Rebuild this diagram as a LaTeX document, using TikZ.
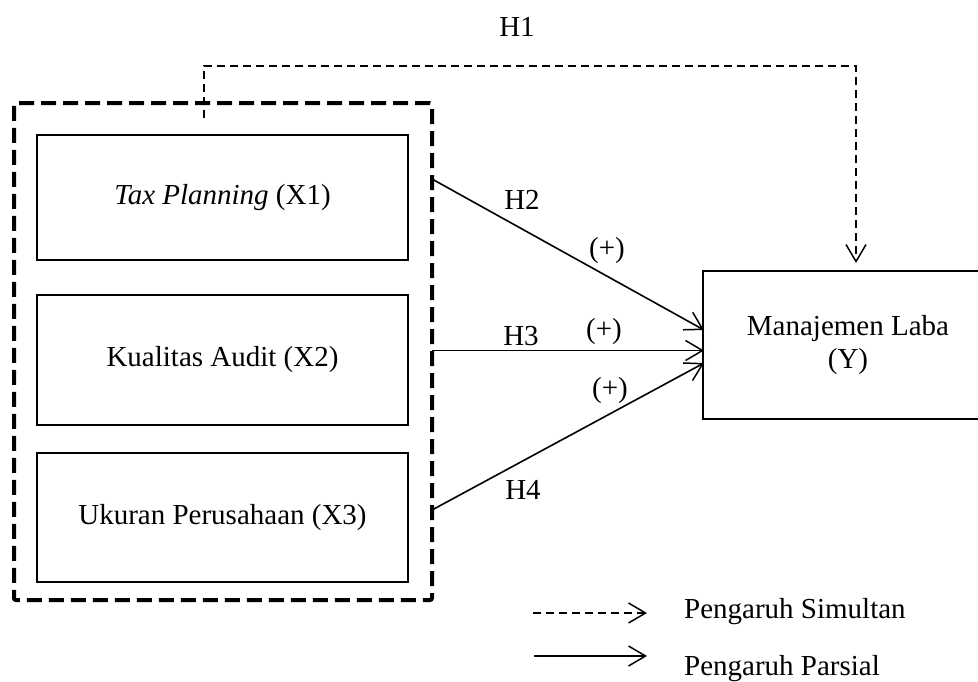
\documentclass[tikz,border=0pt]{standalone}
\usepackage{fontspec}
\setmainfont{Liberation Serif}
\usetikzlibrary{arrows.meta}
\begin{document}
\begin{tikzpicture}[x=1pt,y=-1pt,
  lbl/.style={font=\fontsize{29}{33}\selectfont, inner sep=0pt},
  varbox/.style={draw, line width=1.3pt, minimum width=371pt, font=\fontsize{29}{33}\selectfont, align=center},
  groupbox/.style={draw, line width=4pt, dash pattern=on 15pt off 7pt, rounded corners=2pt, minimum width=418pt, minimum height=497pt},
  tip/.style={-{Straight Barb[length=17pt,width=20pt,line width=1.5pt]}},
  partial/.style={tip, line width=1.6pt},
  simul/.style={tip, line width=1.4pt, dash pattern=on 8pt off 5pt},
]
\useasboundingbox (0,0) rectangle (978,681);
\clip (0,0) rectangle (978,681);

% group box and variable boxes
\node[groupbox] (G) at (223,351.5) {};
\node[varbox, minimum height=125pt] (X1) at (222.5,197.5) {\textit{Tax Planning} (X1)};
\node[varbox, minimum height=130pt] (X2) at (222.5,360) {Kualitas Audit (X2)};
\node[varbox, minimum height=129pt] (X3) at (222.5,517.5) {Ukuran Perusahaan (X3)};
\node[draw, line width=1.3pt, minimum width=290pt, minimum height=148pt,
      font=\fontsize{29}{33}\selectfont, align=center] (Y) at (848,345) {Manajemen Laba\\(Y)};

% connector endpoints
\coordinate (s2) at (432,179);
\coordinate (s3) at (432,350.5);
\coordinate (s4) at (432,510);
\coordinate (e2) at (704,330);
\coordinate (e3) at (704,350.5);
\coordinate (e4) at (704,363);
\coordinate (h1s) at (204,118);
\coordinate (h1a) at (204,66);
\coordinate (h1b) at (856,66);
\coordinate (h1e) at (856,263);

% partial effects
\draw[partial] (s2) -- (e2);
\draw[partial] (s3) -- (e3);
\draw[partial] (s4) -- (e4);

% simultaneous effect
\draw[simul] (h1s) -- (h1a) -- (h1b) -- (h1e);

% labels
\node[lbl] (H1) at (517,27) {H1};
\node[lbl] (H2) at (522,200) {H2};
\node[lbl] (P2) at (607,251) {(+)};
\node[lbl] (H3) at (521,336) {H3};
\node[lbl] (P3) at (604,332) {(+)};
\node[lbl] (P4) at (610,391) {(+)};
\node[lbl] (H4) at (523,490) {H4};

% legend
\coordinate (l1a) at (533,613);
\coordinate (l1b) at (647,613);
\coordinate (l2a) at (534,656);
\coordinate (l2b) at (647,656);
\draw[simul] (l1a) -- (l1b);
\draw[partial] (l2a) -- (l2b);
\node[lbl, anchor=west] (LS) at (684,612) {Pengaruh Simultan};
\node[lbl, anchor=west] (LP) at (684,669) {Pengaruh Parsial};
\end{tikzpicture}
\end{document}
